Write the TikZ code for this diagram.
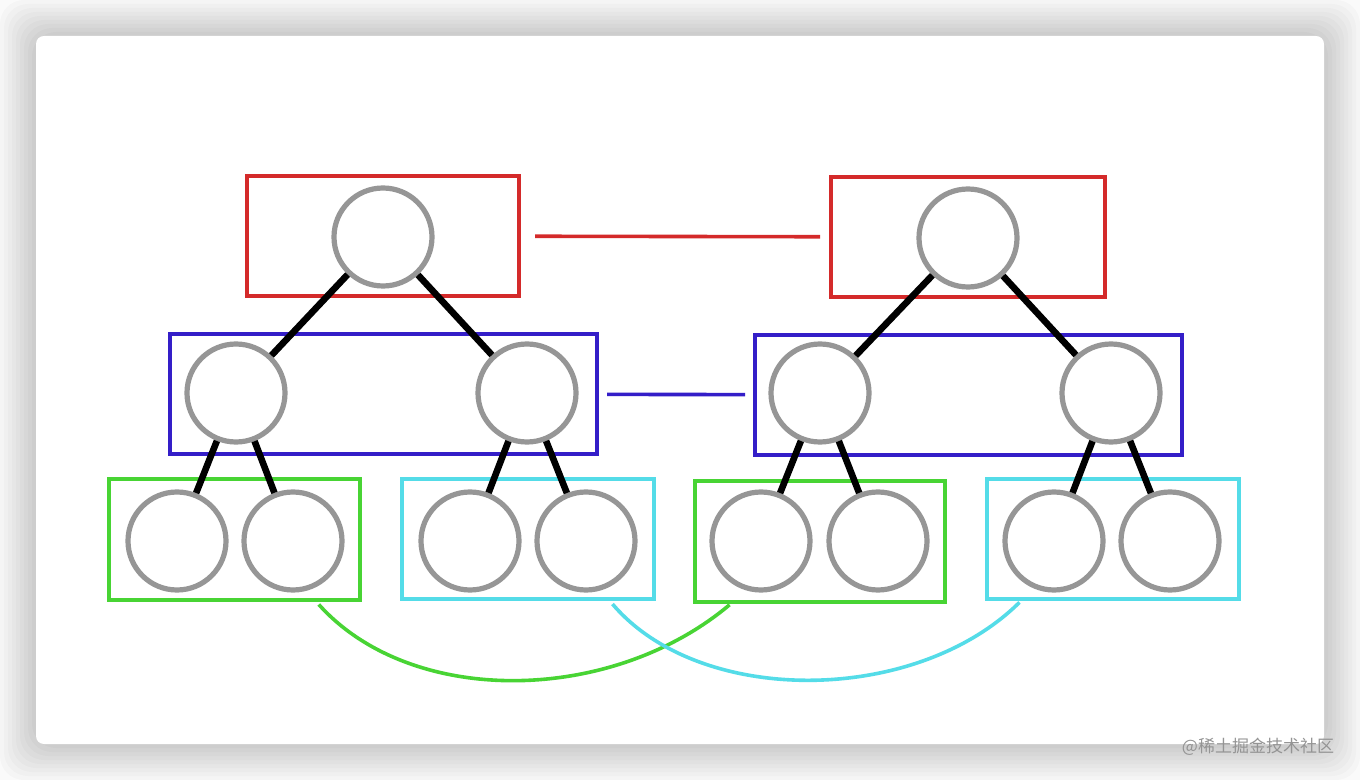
\documentclass[tikz,border=0pt]{standalone}
\usepackage{fontspec}
\newfontfamily\cjk{Noto Sans CJK SC}
\usepackage{tikz}
\usetikzlibrary{calc}
\definecolor{ringgray}{RGB}{150,150,150}
\definecolor{boxred}{RGB}{212,42,42}
\definecolor{boxblue}{RGB}{52,30,200}
\definecolor{boxgreen}{RGB}{72,212,52}
\definecolor{boxcyan}{RGB}{84,220,232}
\tikzset{ring/.style={circle,draw=ringgray,line width=2.6pt,minimum size=49pt,inner sep=0pt},
         box/.style={rectangle,draw=#1,line width=2pt,minimum height=60pt,inner sep=0pt},
         edge/.style={line width=3.3pt,black},
         link/.style={line width=1.8pt,#1},
         wm/.style={font=\cjk\fontsize{8.5}{10}\selectfont,text=black!42}}

\begin{document}
\begin{tikzpicture}[x=.5pt,y=-.5pt]
  \useasboundingbox (0,0) rectangle (1360,780);
  \fill[black!2] (0,0) rectangle (1360,780);
  % soft shadow round the card
  \foreach \d in {4,8,...,36}
    \fill[black,opacity=.018,rounded corners=12pt] (36-\d,36-\d) rectangle (1324+\d,744+\d);
  \fill[white,rounded corners=4pt] (36,36) rectangle (1324,744);
  % level boxes
  \node[box=boxred,minimum width=136pt] (rL) at (383,236) {};
  \node[box=boxred,minimum width=137pt] (rR) at (968,237) {};
  \node[box=boxblue,minimum width=213.5pt] (bL) at (383.5,394) {};
  \node[box=boxblue,minimum width=213.5pt] (bR) at (968.5,395) {};
  \node[box=boxgreen,minimum width=125.5pt] (gL) at (234.5,539.5) {};
  \node[box=boxcyan,minimum width=126pt] (cL) at (528,539) {};
  \node[box=boxgreen,minimum width=125pt] (gR) at (820,541.5) {};
  \node[box=boxcyan,minimum width=126pt] (cR) at (1113,539) {};
  % tree nodes
  \node[ring] (a) at (383,237) {};
  \node[ring] (a1) at (236,393) {};
  \node[ring] (a2) at (527,393) {};
  \node[ring] (a11) at (177,541) {};
  \node[ring] (a12) at (293,541) {};
  \node[ring] (a21) at (470,541) {};
  \node[ring] (a22) at (586,541) {};
  \node[ring] (b) at (968,238) {};
  \node[ring] (b1) at (820,393) {};
  \node[ring] (b2) at (1111,393) {};
  \node[ring] (b11) at (761,541) {};
  \node[ring] (b12) at (878,541) {};
  \node[ring] (b21) at (1054,541) {};
  \node[ring] (b22) at (1170,541) {};
  % tree edges
  \draw[edge] (a) -- (a1); \draw[edge] (a) -- (a2);
  \draw[edge] (a1) -- (a11); \draw[edge] (a1) -- (a12);
  \draw[edge] (a2) -- (a21); \draw[edge] (a2) -- (a22);
  \draw[edge] (b) -- (b1); \draw[edge] (b) -- (b2);
  \draw[edge] (b1) -- (b11); \draw[edge] (b1) -- (b12);
  \draw[edge] (b2) -- (b21); \draw[edge] (b2) -- (b22);
  % links between matching boxes
  \draw[link=boxred,shorten <=7pt,shorten >=4.5pt] (rL) -- (rR);
  \draw[link=boxblue,shorten <=4pt,shorten >=4pt] (bL) -- (bR);
  \draw[link=boxgreen,shorten <=2pt,shorten >=1pt]
    ($(gL.south west)!.82!(gL.south east)$) .. controls +(95,106) and +(-120,101)
    .. ($(gR.south west)!.15!(gR.south east)$);
  \draw[link=boxcyan,shorten <=2pt,shorten >=1pt]
    ($(cL.south west)!.82!(cL.south east)$) .. controls +(90,106) and +(-105,104)
    .. ($(cR.south west)!.14!(cR.south east)$);
  \node[wm] (mark) at (1258,747) {@稀土掘金技术社区};
\end{tikzpicture}
\end{document}
